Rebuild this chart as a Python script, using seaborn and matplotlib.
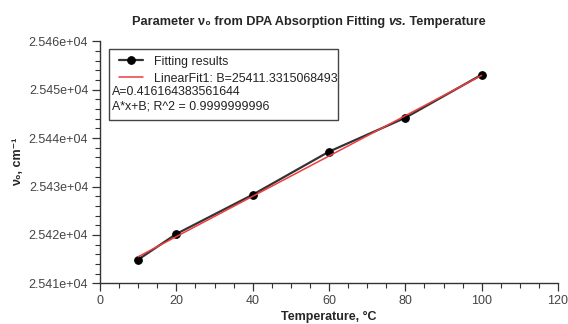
import matplotlib
matplotlib.use("Agg")
import matplotlib.pyplot as plt
import matplotlib.ticker as mticker
from matplotlib.patches import Rectangle
import numpy as np
import pandas as pd
import seaborn as sns

# ---- data ----
temperature = [10, 20, 40, 60, 80, 100]
nu0 = [25414.9, 25420.2, 25428.3, 25437.2, 25444.2, 25453.1]
fit_A = 0.416164383561644
fit_B = 25411.3315068493
fit_R2 = "0.9999999996"
x_ticks = [0, 20, 40, 60, 80, 100, 120]
y_ticks = [25410, 25420, 25430, 25440, 25450, 25460]

sns.set_theme(style="ticks")
plt.rcParams['font.family'] = ['Liberation Sans', 'DejaVu Sans']

fig = plt.figure(figsize=(5.68, 3.24), dpi=100)
ax = fig.add_axes([100/568, 1-283.3/324, 458/568, 242/324])

df = pd.DataFrame({"T": temperature, "nu": nu0})
fit_x = np.array([temperature[0], temperature[-1]], dtype=float)
df_fit = pd.DataFrame({"T": fit_x, "nu": fit_A * fit_x + fit_B})

sns.lineplot(data=df, x="T", y="nu", ax=ax, color="#333333", linewidth=1.6,
             marker="o", markersize=5.5, markeredgecolor="black",
             markerfacecolor="black", label="Fitting results", zorder=2)
sns.lineplot(data=df_fit, x="T", y="nu", ax=ax, color="#f03c3c", linewidth=1.1,
             label="LinearFit1: B=25411.3315068493", zorder=3)

ax.set_xlim(0, 120)
ax.set_ylim(25410, 25460)
ax.set_xticks(x_ticks)
ax.set_yticks(y_ticks)
ax.xaxis.set_minor_locator(mticker.MultipleLocator(5))
ax.yaxis.set_minor_locator(mticker.MultipleLocator(2))
ax.yaxis.set_major_formatter(mticker.FormatStrFormatter('%.3e'))

for s in ["top", "right"]:
    ax.spines[s].set_visible(False)
for s in ["left", "bottom"]:
    ax.spines[s].set_color("#333333")
    ax.spines[s].set_linewidth(1.0)

ax.tick_params(axis="both", which="major", direction="out", length=6,
               width=0.9, color="#333333", labelsize=9, labelcolor="#444444", pad=2.5)
ax.tick_params(axis="both", which="minor", direction="out", length=3.5,
               width=0.8, color="#333333")

ax.set_xlabel("Temperature, °C", fontsize=9, fontweight="bold", labelpad=3)
ax.set_ylabel("ν₀, cm⁻¹", fontsize=9, fontweight="bold", labelpad=3)

# title assembled from pieces (italic "vs.")
title_parts = [("Parameter ν₀ from DPA Absorption Fitting ", "normal"),
               ("vs.", "italic"),
               (" Temperature", "normal")]
fig.canvas.draw()
renderer = fig.canvas.get_renderer()
title_size = 9.2
texts = []
for s, style in title_parts:
    t = fig.text(0, 0, s, fontsize=title_size, fontweight="bold", style=style,
                 ha="left", va="center")
    texts.append(t)
widths = [t.get_window_extent(renderer).width for t in texts]
total = sum(widths)
x0 = 309 - total / 2
yc = 324 - 22
for t, w in zip(texts, widths):
    t.set_transform(None)
    t.set_position((x0, yc))
    x0 += w

# legend
leg_fs = 8.9
leg = ax.legend(loc="upper left", bbox_to_anchor=(19/458, 1-14.5/242),
                frameon=False, fontsize=leg_fs, borderpad=0, borderaxespad=0,
                handlelength=1.95, handletextpad=0.9, labelspacing=0.4)
for t in leg.get_texts():
    t.set_color("#222222")

ax.text(12/458, 1-50.5/242, f"A={fit_A!r}", transform=ax.transAxes,
        ha="left", va="center", fontsize=leg_fs, color="#222222")
ax.text(12/458, 1-65/242, f"A*x+B; R^2 = {fit_R2}", transform=ax.transAxes,
        ha="left", va="center", fontsize=leg_fs, color="#222222")
ax.add_patch(Rectangle((9/458, 1-79/242), 229/458, 71/242, transform=ax.transAxes,
                       fill=False, edgecolor="#444444", linewidth=1.0, zorder=5,
                       clip_on=False))

fig.savefig("out.png", dpi=100)
